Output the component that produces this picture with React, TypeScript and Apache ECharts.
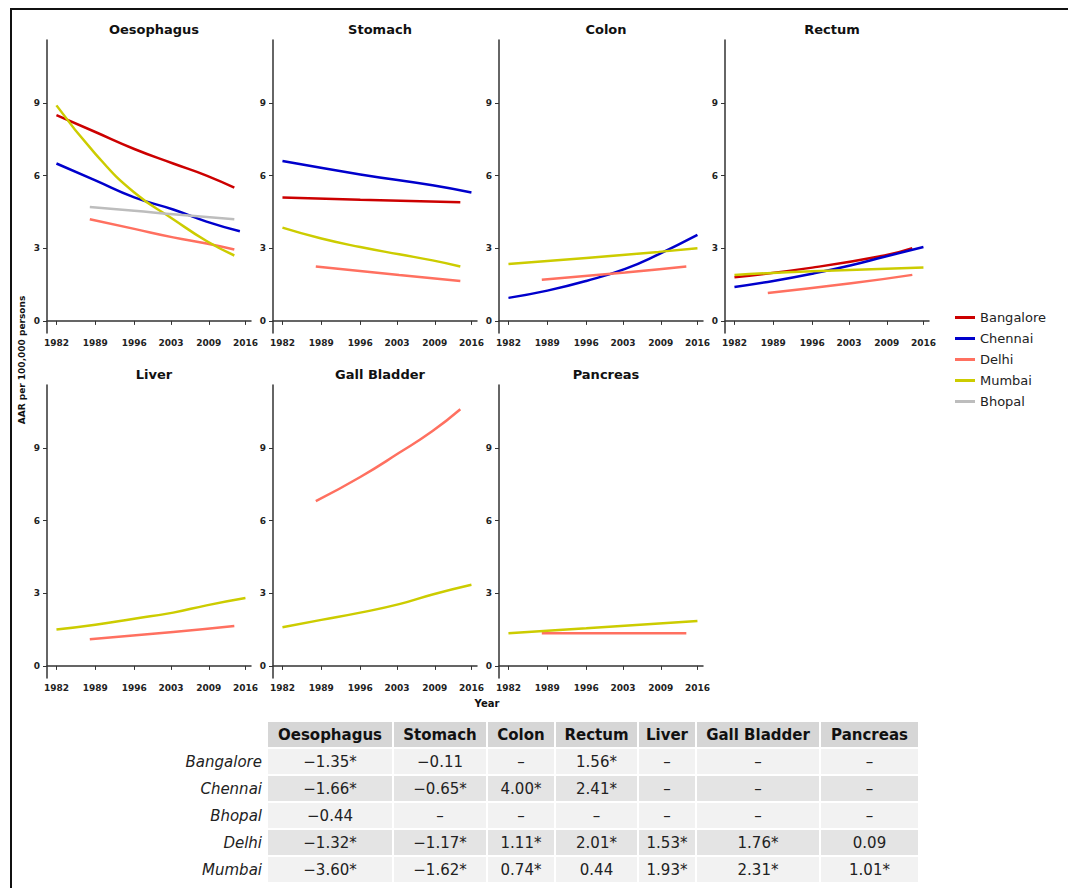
import React, { useEffect, useRef } from "react";
import * as echarts from "echarts";

const panels = ["Oesophagus", "Stomach", "Colon", "Rectum", "Liver", "Gall Bladder", "Pancreas"];
const cities = ["Bangalore", "Chennai", "Delhi", "Mumbai", "Bhopal"];
const cityColors = ["#cc0000", "#0000cc", "#ff7060", "#cccc00", "#bdbdbd"];
const xTicks = [1982, 1989, 1996, 2002.6, 2009.4, 2016];
const yTicks = [0, 3, 6, 9];

// [year, AAR] points
const oesophagus: Record<string, number[][]> = {
  Bangalore: [[1982, 8.5], [1989, 7.8], [1996, 7.1], [2003, 6.5], [2009, 6.0], [2014, 5.5]],
  Chennai: [[1982, 6.5], [1989, 5.8], [1996, 5.1], [2003, 4.6], [2009, 4.1], [2015, 3.7]],
  Delhi: [[1988, 4.2], [1996, 3.8], [2003, 3.45], [2009, 3.2], [2014, 2.95]],
  Mumbai: [[1982, 8.9], [1989, 6.9], [1996, 5.3], [2003, 4.2], [2009, 3.3], [2014, 2.7]],
  Bhopal: [[1988, 4.7], [1996, 4.55], [2003, 4.4], [2014, 4.2]],
};
const stomach: Record<string, number[][]> = {
  Bangalore: [[1982, 5.1], [1996, 5.0], [2014, 4.9]],
  Chennai: [[1982, 6.6], [1996, 6.05], [2009, 5.6], [2016, 5.3]],
  Delhi: [[1988, 2.25], [2003, 1.9], [2014, 1.65]],
  Mumbai: [[1982, 3.85], [1989, 3.4], [1996, 3.05], [2003, 2.75], [2009, 2.5], [2014, 2.25]],
};
const colon: Record<string, number[][]> = {
  Chennai: [[1982, 0.95], [1989, 1.25], [1996, 1.65], [2003, 2.15], [2009, 2.75], [2016, 3.55]],
  Delhi: [[1988, 1.7], [2003, 2.0], [2014, 2.25]],
  Mumbai: [[1982, 2.35], [1996, 2.6], [2009, 2.85], [2016, 3.0]],
};
const rectum: Record<string, number[][]> = {
  Bangalore: [[1982, 1.8], [1996, 2.2], [2009, 2.7], [2014, 3.0]],
  Chennai: [[1982, 1.4], [1989, 1.65], [1996, 1.95], [2003, 2.3], [2009, 2.65], [2016, 3.05]],
  Delhi: [[1988, 1.15], [2003, 1.55], [2014, 1.9]],
  Mumbai: [[1982, 1.9], [1996, 2.05], [2016, 2.2]],
};
const liver: Record<string, number[][]> = {
  Delhi: [[1988, 1.1], [2003, 1.4], [2014, 1.65]],
  Mumbai: [[1982, 1.5], [1989, 1.7], [1996, 1.95], [2003, 2.2], [2009, 2.5], [2016, 2.8]],
};
const gallBladder: Record<string, number[][]> = {
  Delhi: [[1988, 6.8], [1996, 7.8], [2003, 8.8], [2009, 9.7], [2014, 10.6]],
  Mumbai: [[1982, 1.6], [1989, 1.9], [1996, 2.2], [2003, 2.55], [2009, 2.95], [2016, 3.35]],
};
const pancreas: Record<string, number[][]> = {
  Delhi: [[1988, 1.35], [2003, 1.35], [2014, 1.35]],
  Mumbai: [[1982, 1.35], [1996, 1.55], [2016, 1.85]],
};
const panelData = [oesophagus, stomach, colon, rectum, liver, gallBladder, pancreas];

const tableCols = ["Oesophagus", "Stomach", "Colon", "Rectum", "Liver", "Gall Bladder", "Pancreas"];
const tableRows = ["Bangalore", "Chennai", "Bhopal", "Delhi", "Mumbai"];
const tableValues = [
  ["\u22121.35*", "\u22120.11", "\u2013", "1.56*", "\u2013", "\u2013", "\u2013"],
  ["\u22121.66*", "\u22120.65*", "4.00*", "2.41*", "\u2013", "\u2013", "\u2013"],
  ["\u22120.44", "\u2013", "\u2013", "\u2013", "\u2013", "\u2013", "\u2013"],
  ["\u22121.32*", "\u22121.17*", "1.11*", "2.01*", "1.53*", "1.76*", "0.09"],
  ["\u22123.60*", "\u22121.62*", "0.74*", "0.44", "1.93*", "2.31*", "1.01*"],
];
const colWidths = [124, 92, 66, 81, 56, 122, 97];

const FONT = "'DejaVu Sans', sans-serif";

export default function App() {
  const ref = useRef<HTMLDivElement | null>(null);

  useEffect(() => {
    if (!ref.current) return;
    const chart = echarts.init(ref.current, null, { renderer: "svg" });
    const grids: any[] = [];
    const xAxes: any[] = [];
    const yAxes: any[] = [];
    const series: any[] = [];
    const titles: any[] = [];
    panels.forEach((p, i) => {
      const col = i % 4;
      const row = Math.floor(i / 4);
      const left = 47 + col * 226;
      const top = row === 0 ? 40 : 385;
      grids.push({ left, top, width: 204, height: 293 });
      titles.push({
        text: p, left: left + 102, top: top - 22, textAlign: "center",
        textStyle: { fontSize: 13, fontWeight: "bold", fontFamily: FONT, color: "#111" },
      });
      xAxes.push({
        type: "value", gridIndex: i, min: 1980.3, max: 2017,
        axisLine: { lineStyle: { color: "#333", width: 1.5 } },
        axisTick: { customValues: xTicks, length: 4, lineStyle: { color: "#333" } },
        axisLabel: {
          customValues: xTicks, formatter: (v: number) => String(Math.round(v)),
          fontSize: 9, fontWeight: "bold", color: "#222", fontFamily: FONT, margin: 5,
        },
        splitLine: { show: false },
      });
      yAxes.push({
        type: "value", gridIndex: i, min: -0.5, max: 11.6,
        axisLine: { show: true, lineStyle: { color: "#333", width: 1.5 } },
        axisTick: { show: true, customValues: yTicks, length: 4, lineStyle: { color: "#333" } },
        axisLabel: {
          customValues: yTicks, fontSize: 9, fontWeight: "bold", color: "#222", fontFamily: FONT, margin: 7,
        },
        splitLine: { show: false },
      });
      const d = panelData[i];
      cities.forEach((c, ci) => {
        if (!d[c]) return;
        series.push({
          name: c, type: "line", xAxisIndex: i, yAxisIndex: i, data: d[c],
          smooth: true, showSymbol: false, color: cityColors[ci],
          lineStyle: { width: 2.5, color: cityColors[ci] },
        });
      });
    });
    chart.setOption({
      animation: false,
      title: titles,
      grid: grids,
      xAxis: xAxes,
      yAxis: yAxes,
      series,
      legend: {
        data: cities, orient: "vertical", left: 950, top: 306, itemGap: 8,
        itemWidth: 20, itemHeight: 3, icon: "rect",
        textStyle: { fontSize: 13, color: "#222", fontFamily: FONT },
      },
      graphic: [
        { type: "text", x: 22, y: 360, rotation: Math.PI / 2, style: { text: "AAR per 100,000 persons", font: "bold 9px " + FONT, fill: "#111", align: "center", verticalAlign: "middle" } },
        { type: "text", x: 487, y: 703, style: { text: "Year", font: "bold 10px " + FONT, fill: "#111", align: "center", verticalAlign: "middle" } },
      ],
    });
    return () => chart.dispose();
  }, []);

  const cell: React.CSSProperties = { textAlign: "center", fontSize: 15, color: "#222", padding: 0, height: 25 };
  return (
    <div style={{ position: "absolute", left: 0, top: 0, width: 1068, height: 888, background: "#fff", fontFamily: FONT }}>
      <div style={{ position: "absolute", left: 10, top: 8, width: 1070, height: 900, borderLeft: "2px solid #111", borderTop: "2px solid #111" }} />
      <div ref={ref} style={{ position: "absolute", left: 0, top: 0, width: 1068, height: 715 }} />
      <table style={{ position: "absolute", left: 158, top: 720, borderCollapse: "separate", borderSpacing: 2, fontFamily: FONT }}>
        <thead>
          <tr>
            <th style={{ width: 104 }} />
            {tableCols.map((c, i) => (
              <th key={c} style={{ ...cell, width: colWidths[i], background: "#d6d6d6", fontWeight: "bold", color: "#111" }}>{c}</th>
            ))}
          </tr>
        </thead>
        <tbody>
          {tableRows.map((r, ri) => (
            <tr key={r}>
              <td style={{ ...cell, textAlign: "right", fontStyle: "italic", paddingRight: 4 }}>{r}</td>
              {tableValues[ri].map((v, ci) => (
                <td key={ci} style={{ ...cell, background: ri % 2 === 0 ? "#f2f2f2" : "#e4e4e4" }}>{v}</td>
              ))}
            </tr>
          ))}
        </tbody>
      </table>
    </div>
  );
}
